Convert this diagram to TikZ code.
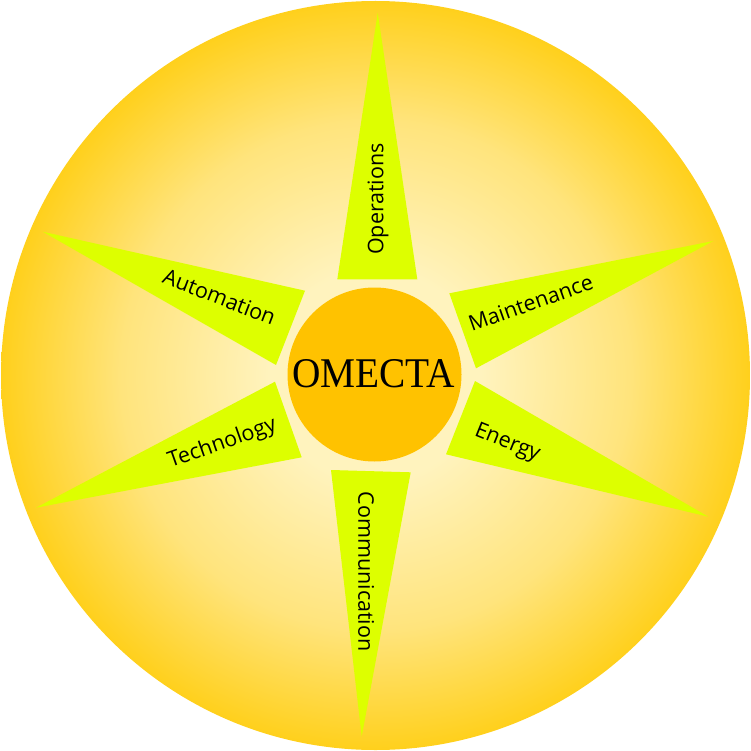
\documentclass[tikz,border=0pt]{standalone}
\usepackage{fontspec}
\usepackage{graphicx}
\newfontfamily\labelfont{Open Sans}
\newfontfamily\titlefont{Liberation Serif}
\definecolor{bgin}{HTML}{FFF3BE}
\definecolor{bgmid}{HTML}{FFE47C}
\definecolor{bgout}{HTML}{FFD01C}
\definecolor{spike}{HTML}{DDFF00}
\definecolor{core}{HTML}{FFC200}
\pgfdeclareradialshading{bgshade}{\pgfpoint{0bp}{0bp}}{color(0bp)=(bgin); color(7bp)=(bgin); color(17bp)=(bgmid); color(25bp)=(bgout); color(50bp)=(bgout)}
\tikzset{
  spikeshape/.style={fill=spike, draw=none},
  lbl/.style={font=\labelfont\fontsize{21.5}{24}\selectfont, anchor=base, inner sep=0pt, text=black},
}
\begin{document}
\begin{tikzpicture}[x=1pt,y=-1pt]
\useasboundingbox (0,0) rectangle (751,751);
\shade[shading=bgshade] (375.5,375.5) circle[radius=374.5pt];
% spikes
\fill[spikeshape] (377.7,12.7) -- (337.3,279.3) -- (417.3,279.3) -- cycle;
\fill[spikeshape] (42.7,231.7) -- (305,290.7) -- (276,365) -- cycle;
\fill[spikeshape] (713.3,241) -- (449.3,293.3) -- (476,368.3) -- cycle;
\fill[spikeshape] (36,507.7) -- (275,381.7) -- (301.7,457.3) -- cycle;
\fill[spikeshape] (708.3,516.7) -- (475,381) -- (446,454.3) -- cycle;
\fill[spikeshape] (361.7,736.7) -- (331,470) -- (410.7,472.3) -- cycle;
% labels
\node[lbl, rotate=90] (ops) at (383.3,199) {Operations};
\node[lbl, rotate=-21] (aut) at (216.7,304.2) {Automation};
\node[lbl, rotate=19.5] (mai) at (533.3,310) {Maintenance};
\node[lbl, rotate=19.5] (tec) at (224.2,449.1) {Technology};
\node[lbl, rotate=-22] (ene) at (505.3,447.9) {Energy};
\node[lbl, rotate=-90] (com) at (358.3,571.7) {Communication};
% centre
\node[circle, fill=core, draw=none, minimum size=174pt, inner sep=0pt] (core) at (374.5,374.5) {};
\node[anchor=base, inner sep=0pt] (title) at (373.7,387.3) {\scalebox{0.93}[1]{\titlefont\fontsize{42.3}{42}\selectfont OMECTA}};
\end{tikzpicture}
\end{document}
